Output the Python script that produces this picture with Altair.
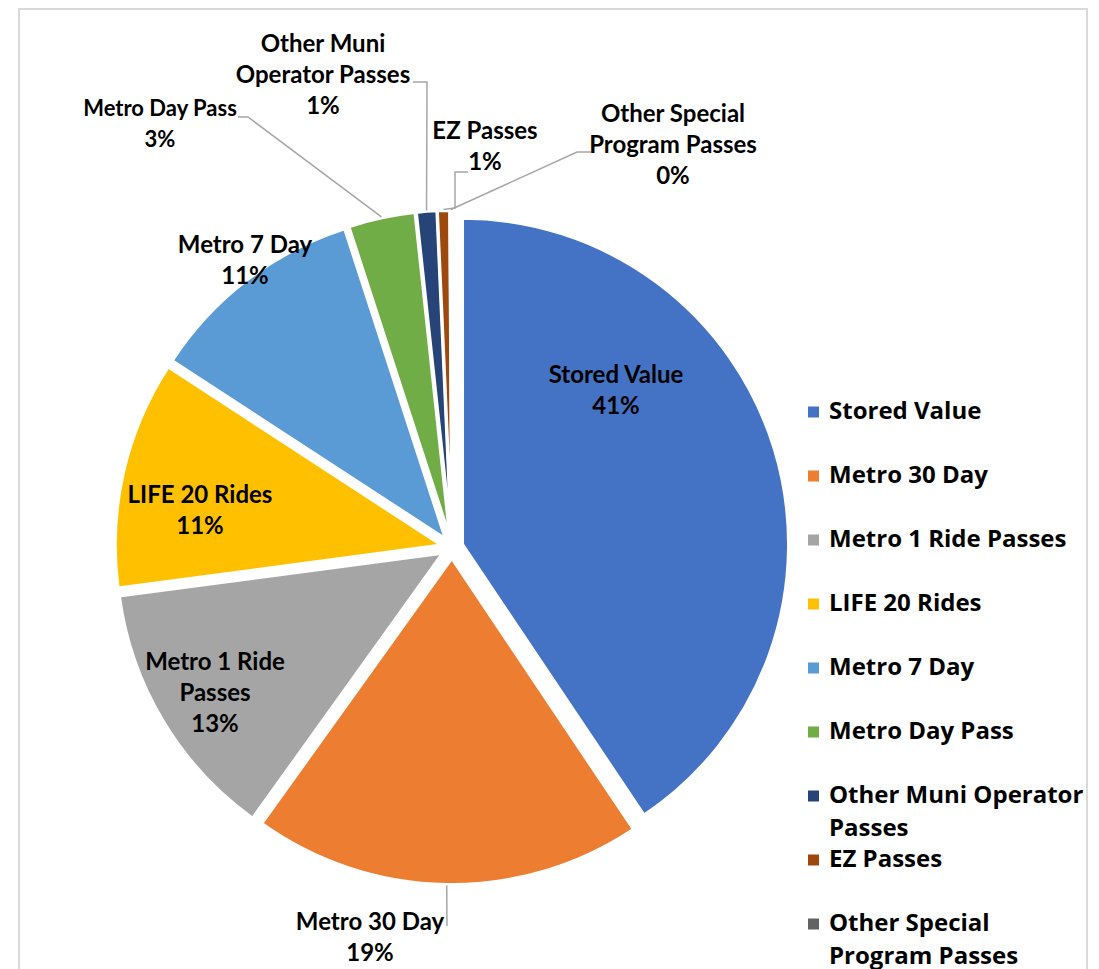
import math
import altair as alt
import pandas as pd

# ---------------- data ----------------
categories = ["Stored Value", "Metro 30 Day", "Metro 1 Ride Passes", "LIFE 20 Rides",
              "Metro 7 Day", "Metro Day Pass", "Other Muni Operator Passes",
              "EZ Passes", "Other Special Program Passes"]
values = [40.6, 19.3, 13.0, 11.3, 10.8, 3.3, 1.0, 0.6, 0.1]
colors = ["#4472C4", "#ED7D31", "#A5A5A5", "#FFC000", "#5B9BD5",
          "#70AD47", "#264478", "#9E480E", "#636363"]

# wording as wrapped on the chart
label_names = ["Stored Value", "Metro 30 Day", "Metro 1 Ride\nPasses", "LIFE 20 Rides",
               "Metro 7 Day", "Metro Day Pass", "Other Muni\nOperator Passes",
               "EZ Passes", "Other Special\nProgram Passes"]
legend_names = ["Stored Value", "Metro 30 Day", "Metro 1 Ride Passes", "LIFE 20 Rides",
                "Metro 7 Day", "Metro Day Pass", "Other Muni Operator\nPasses",
                "EZ Passes", "Other Special\nProgram Passes"]

# ---------------- layout (pixels inside the chart) ----------------
OFF = 8
CX, CY = 452 - OFF, 547.5 - OFF
R = 326
EXPLODE = 11
W, H = 1083, 961
LINE_H = 31

# centre x and first-line y of each slice label (page pixels)
label_x = [616, 370, 215, 200, 245, 160, 323, 485, 673]
label_y = [376, 923, 663, 496, 246, 109, 45, 132, 115]
label_size = [24, 24, 24, 24, 24, 22, 24, 24, 24]

# leader line bend points (label side), by slice index
leaders = {
    1: [(447, 926)],
    5: [(248, 117), (238, 117)],
    6: [(427, 82), (413, 82)],
    7: [(455, 208), (455, 172), (468, 172)],
    8: [(577, 152), (591, 152)],
}

LEG_SQ_X = 813.5
LEG_TX_X = 829
LEG_Y0 = 412
LEG_STEP = 64
LEG_LH = 33

FONT_LBL = "Lato"
FONT_LEG = "Open Sans"

# ---------------- tables ----------------
total = sum(values)
df = pd.DataFrame({"category": categories, "value": values})
df["end"] = df["value"].cumsum()
df["start"] = df["end"] - df["value"]
mid = (df["start"] + df["end"]) / 2 / total * 2 * math.pi
df["cx"] = CX + EXPLODE * mid.map(math.sin)
df["cy"] = CY - EXPLODE * mid.map(math.cos)
df["label"] = [f"{n}\n{round(v)}%" for n, v in zip(label_names, values)]
df["lx"] = [x - OFF for x in label_x]
df["ly"] = [y - OFF for y in label_y]
df["lsize"] = label_size

rows = []
for i, pts in leaders.items():
    a = mid[i]
    rr = R + EXPLODE + 1
    ex = CX + rr * math.sin(a)
    ey = CY - rr * math.cos(a)
    seq = [(ex, ey)] + [(x - OFF, y - OFF) for x, y in pts]
    for k, (x, y) in enumerate(seq):
        rows.append({"category": categories[i], "k": k, "x": x, "y": y})
lead_df = pd.DataFrame(rows)

leg_rows = []
for i, (c, n) in enumerate(zip(categories, legend_names)):
    ry = LEG_Y0 + i * LEG_STEP - OFF
    leg_rows.append({"category": c, "name": n,
                     "sx": LEG_SQ_X - OFF, "sy": ry,
                     "tx": LEG_TX_X - OFF, "ty": ry})
leg_df = pd.DataFrame(leg_rows)

color_enc = alt.Color("category:N", scale=alt.Scale(domain=categories, range=colors), legend=None)
theta_scale = alt.Scale(domain=[0, total], range=[0, 2 * math.pi])

frame = alt.Chart(pd.DataFrame({"a": [0]})).mark_rect(
    fillOpacity=0, stroke="#D9D9D9", strokeWidth=2
).encode(x=alt.value(11), x2=alt.value(1079), y=alt.value(1), y2=alt.value(1100))

arcs = alt.Chart(df).mark_arc(outerRadius=R, stroke="white", strokeWidth=3).encode(
    theta=alt.Theta("start:Q", scale=theta_scale),
    theta2="end:Q",
    x=alt.X("cx:Q", scale=None, axis=None),
    y=alt.Y("cy:Q", scale=None, axis=None),
    color=color_enc,
)

leader_lines = alt.Chart(lead_df).mark_line(color="#A6A6A6", strokeWidth=1.5).encode(
    x=alt.X("x:Q", scale=None, axis=None),
    y=alt.Y("y:Q", scale=None, axis=None),
    detail="category:N",
    order="k:Q",
)

labels = alt.Chart(df).mark_text(
    font=FONT_LBL, fontWeight="bold", color="#000000", align="center",
    baseline="middle", lineBreak="\n", lineHeight=LINE_H
).encode(
    x=alt.X("lx:Q", scale=None, axis=None),
    y=alt.Y("ly:Q", scale=None, axis=None),
    text="label:N",
    size=alt.Size("lsize:Q", scale=None, legend=None),
)

leg_sq = alt.Chart(leg_df).mark_square(size=121, opacity=1).encode(
    x=alt.X("sx:Q", scale=None, axis=None),
    y=alt.Y("sy:Q", scale=None, axis=None),
    color=color_enc,
)

leg_tx = alt.Chart(leg_df).mark_text(
    font=FONT_LEG, fontWeight="bold", fontSize=24, color="#000000", align="left",
    baseline="middle", lineBreak="\n", lineHeight=LEG_LH
).encode(
    x=alt.X("tx:Q", scale=None, axis=None),
    y=alt.Y("ty:Q", scale=None, axis=None),
    text="name:N",
)

chart = alt.layer(frame, arcs, leader_lines, labels, leg_sq, leg_tx).properties(
    width=W, height=H, padding=0, autosize="none"
).configure_view(stroke=None)

chart.save("out.html", embed_options={"renderer": "svg", "actions": False})
